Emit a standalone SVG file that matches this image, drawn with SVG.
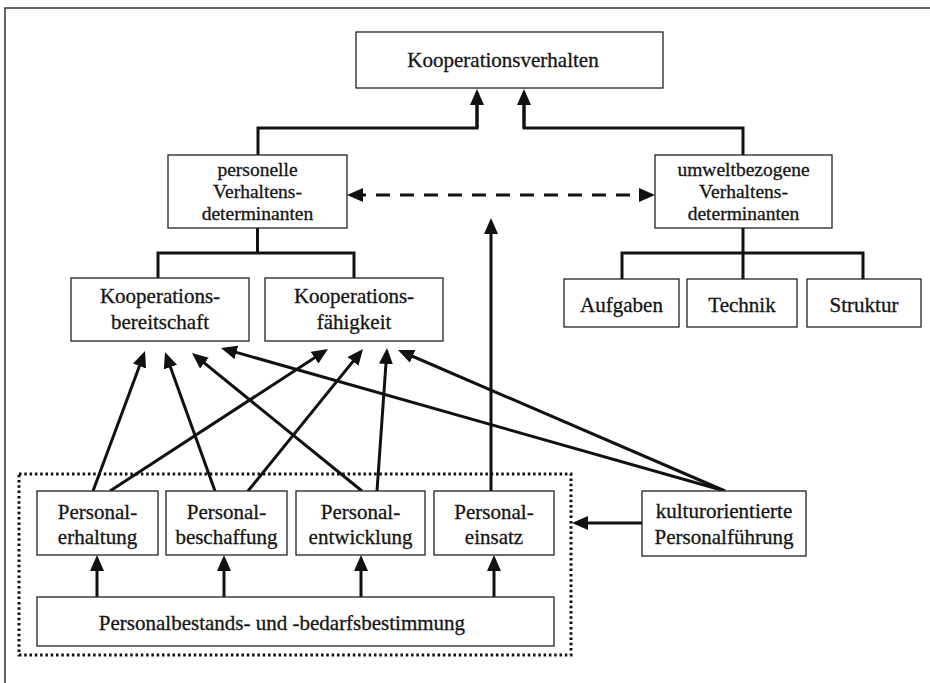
<svg xmlns="http://www.w3.org/2000/svg" width="930" height="683" viewBox="0 0 930 683">
<defs>
<marker id="ah" markerUnits="userSpaceOnUse" markerWidth="16" markerHeight="14" viewBox="0 0 16 14" refX="11" refY="7" orient="auto-start-reverse">
<path d="M0,0 L16,7 L0,14 z" fill="#111"/>
</marker>
<style>
.box{fill:#fff;stroke:#222;stroke-width:1.3}
.t{font-family:"Liberation Serif","Times New Roman",serif;font-size:21px;fill:#151515;stroke:#151515;stroke-width:0.3;text-anchor:middle}
.s{font-size:19.5px}
.c{fill:none;stroke:#111;stroke-width:3}
.a{fill:none;stroke:#111;stroke-width:3;marker-end:url(#ah)}
</style>
</defs>
<rect width="930" height="683" fill="#fff"/>
<path d="M5,683 V8 H930" fill="none" stroke="#333" stroke-width="1.5"/>
<rect x="19" y="474" width="552" height="181" fill="none" stroke="#111" stroke-width="3" stroke-dasharray="2.5 2.8"/>

<g id="connectors">
<path class="c" d="M258,155 V128 H477 V93"/>
<path class="a" d="M477,128 V94"/>
<path class="c" d="M743,155 V128 H524 V93"/>
<path class="a" d="M524,128 V94"/>
<path class="c" d="M257.5,228 V253"/>
<path class="c" d="M158,278 V253 H354 V278"/>
<path class="c" d="M743,228 V279"/>
<path class="c" d="M622,279 V253 H863 V279"/>
<line x1="352" y1="195" x2="650" y2="195" stroke="#111" stroke-width="3" stroke-dasharray="14 10" marker-start="url(#ah)" marker-end="url(#ah)"/>
<line class="a" x1="491" y1="491" x2="491" y2="223"/>
<line class="a" x1="642" y1="523" x2="577" y2="523"/>
<line class="a" x1="97" y1="597" x2="97" y2="560"/>
<line class="a" x1="224" y1="597" x2="224" y2="560"/>
<line class="a" x1="361" y1="597" x2="361" y2="560"/>
<line class="a" x1="494" y1="597" x2="494" y2="560"/>
<line class="a" x1="93" y1="491" x2="143.3" y2="355.7"/>
<line class="a" x1="215" y1="491" x2="166.7" y2="356.7"/>
<line class="a" x1="362" y1="491" x2="195.9" y2="356.2"/>
<line class="a" x1="725" y1="491" x2="225.8" y2="349.4"/>
<line class="a" x1="110" y1="491" x2="323.8" y2="351.7"/>
<line class="a" x1="248" y1="491" x2="359.9" y2="352.9"/>
<line class="a" x1="377" y1="491" x2="386.7" y2="353"/>
<line class="a" x1="725" y1="491" x2="402.6" y2="352"/>
</g>

<g id="kooperationsverhalten">
<rect class="box" x="356" y="32" width="307" height="56"/>
<text class="t" x="503" y="67">Kooperationsverhalten</text>
</g>
<g id="personelle">
<rect class="box" x="168" y="155" width="179" height="73"/>
<text class="t s" x="257.5" y="176">personelle</text>
<text class="t s" x="257.5" y="198">Verhaltens-</text>
<text class="t s" x="257.5" y="220">determinanten</text>
</g>
<g id="umweltbezogene">
<rect class="box" x="655" y="155" width="177" height="73"/>
<text class="t s" x="743.5" y="176">umweltbezogene</text>
<text class="t s" x="743.5" y="198">Verhaltens-</text>
<text class="t s" x="743.5" y="220">determinanten</text>
</g>
<g id="bereitschaft">
<rect class="box" x="71" y="278" width="178" height="63"/>
<text class="t" x="160" y="303">Kooperations-</text>
<text class="t" x="160" y="329">bereitschaft</text>
</g>
<g id="faehigkeit">
<rect class="box" x="265" y="278" width="178" height="63"/>
<text class="t" x="354" y="303">Kooperations-</text>
<text class="t" x="354" y="329">fähigkeit</text>
</g>
<g id="aufgaben">
<rect class="box" x="564" y="279" width="115" height="48"/>
<text class="t" x="621.5" y="312">Aufgaben</text>
</g>
<g id="technik">
<rect class="box" x="687" y="279" width="110" height="48"/>
<text class="t" x="742" y="312">Technik</text>
</g>
<g id="struktur">
<rect class="box" x="807" y="279" width="114" height="48"/>
<text class="t" x="864" y="312">Struktur</text>
</g>
<g id="erhaltung">
<rect class="box" x="37" y="491" width="121" height="64"/>
<text class="t" x="97.5" y="519">Personal-</text>
<text class="t" x="97.5" y="544">erhaltung</text>
</g>
<g id="beschaffung">
<rect class="box" x="166" y="491" width="121" height="64"/>
<text class="t" x="226.5" y="519">Personal-</text>
<text class="t" x="226.5" y="544">beschaffung</text>
</g>
<g id="entwicklung">
<rect class="box" x="296" y="491" width="129" height="64"/>
<text class="t" x="360.5" y="519">Personal-</text>
<text class="t" x="360.5" y="544">entwicklung</text>
</g>
<g id="einsatz">
<rect class="box" x="434" y="491" width="120" height="64"/>
<text class="t" x="494" y="519">Personal-</text>
<text class="t" x="494" y="544">einsatz</text>
</g>
<g id="kultur">
<rect class="box" x="642" y="491" width="164" height="65"/>
<text class="t" x="724" y="518">kulturorientierte</text>
<text class="t" x="724" y="544">Personalführung</text>
</g>
<g id="bestimmung">
<rect class="box" x="37" y="597" width="517" height="49"/>
<text class="t" x="282" y="630">Personalbestands- und -bedarfsbestimmung</text>
</g>
</svg>
